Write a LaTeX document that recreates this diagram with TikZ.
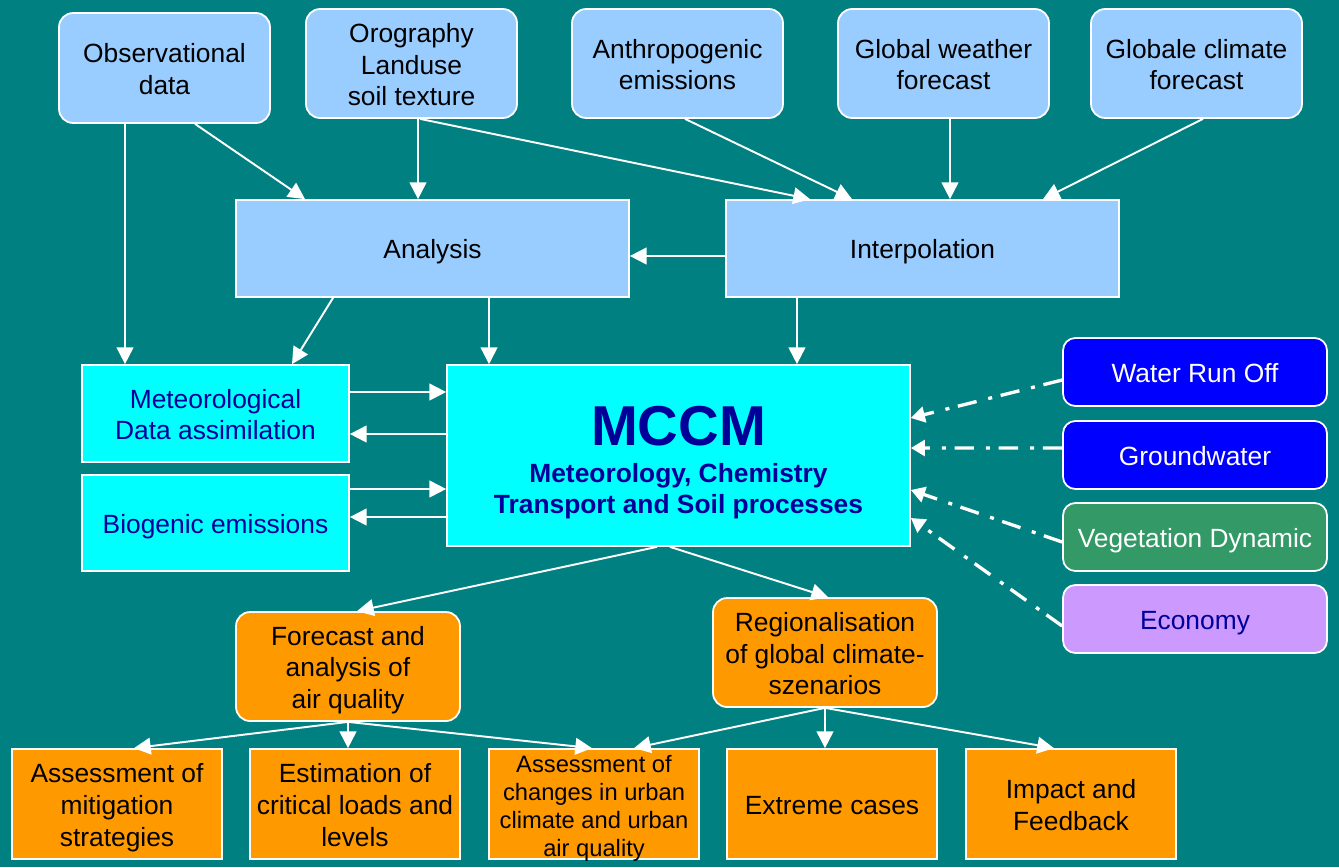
\documentclass[tikz,border=0pt]{standalone}
\usepackage{fontspec}
\setmainfont{Liberation Sans}
\usetikzlibrary{arrows.meta}
\definecolor{bgteal}{HTML}{008080}
\definecolor{lblue}{HTML}{99CCFF}
\definecolor{cyanbox}{HTML}{00FFFF}
\definecolor{bluebox}{HTML}{0000FF}
\definecolor{greenbox}{HTML}{339966}
\definecolor{lavbox}{HTML}{CC99FF}
\definecolor{orangebox}{HTML}{FF9900}
\definecolor{dblue}{HTML}{000099}
\newcommand\firstln{\rule{0pt}{15pt}}
\tikzset{
  basebox/.style={draw=white, line width=1pt, align=center, inner sep=0pt,
    font=\fontsize{15}{18}\selectfont,
    execute at begin node={\rule{0pt}{15pt}},
    execute at end node={\rule[-3pt]{0pt}{3pt}}},
  topbox/.style={basebox, fill=lblue, text=black, rounded corners=8pt,
    minimum width=4.22cm, minimum height=2.2cm},
  midbox/.style={basebox, fill=lblue, text=black,
    minimum width=7.86cm, minimum height=1.94cm},
  cybox/.style={basebox, fill=cyanbox, text=dblue,
    minimum width=5.34cm, minimum height=1.94cm},
  sidebox/.style={basebox, rounded corners=7pt,
    minimum width=5.28cm, minimum height=1.36cm},
  obox/.style={basebox, fill=orangebox, text=black, rounded corners=8pt,
    minimum width=4.48cm, minimum height=2.18cm},
  botbox/.style={basebox, fill=orangebox, text=black,
    minimum width=4.2cm, minimum height=2.2cm},
  arr/.style={draw=white, line width=1.1pt, -{Triangle[length=9.5pt,width=9.5pt]}},
  ddarr/.style={draw=white, line width=1.9pt,
    dash pattern=on 11pt off 5pt on 2.3pt off 6.8pt,
    -{Triangle[length=8pt,width=9pt]}}
}
\begin{document}
\begin{tikzpicture}[x=0.02cm,y=-0.02cm]
\fill[bgteal] (0,0) rectangle (1339,867);
\useasboundingbox (0,0) rectangle (1339,867);

% top row
\node[topbox] (obs) at (164.5,68) {\firstln Observational\\data};
\node[topbox, minimum height=2.18cm] (oro) at (411.5,63.5) {\firstln Orography\\Landuse\\soil texture};
\node[topbox, minimum height=2.18cm] (anth) at (677.5,63.5) {\firstln Anthropogenic\\emissions};
\node[topbox, minimum height=2.18cm] (gwf) at (943.5,63.5) {\firstln Global weather\\forecast};
\node[topbox, minimum height=2.18cm] (gcf) at (1196.5,63.5) {\firstln Globale climate\\forecast};

% second row
\node[midbox] (ana) at (432.5,248.5) {Analysis};
\node[midbox] (int) at (922.5,248.5) {Interpolation};

% middle
\node[cybox] (met) at (215.5,413.5) {\firstln Meteorological\\Data assimilation};
\node[cybox, minimum height=1.92cm] (bio) at (215.5,523) {Biogenic emissions};
\node[basebox, fill=cyanbox, text=dblue, minimum width=9.26cm, minimum height=3.62cm,
      font=\fontsize{15}{17.6}\selectfont] (mccm) at (678.5,455.5)
  {{\fontsize{32}{36}\selectfont\bfseries\rule{0pt}{30.3pt}MCCM}\\[3.9pt]
   {\bfseries Meteorology, Chemistry}\\
   {\bfseries Transport and Soil processes}};

% side boxes
\node[sidebox, fill=bluebox, text=white] (wro) at (1195,372) {Water Run Off};
\node[sidebox, fill=bluebox, text=white] (gw) at (1195,455) {Groundwater};
\node[sidebox, fill=greenbox, text=white] (veg) at (1195,537) {Vegetation Dynamic};
\node[sidebox, fill=lavbox, text=dblue] (eco) at (1195,619) {Economy};

% orange
\node[obox] (fc) at (348,666.5) {\firstln Forecast and\\analysis of\\air quality};
\node[obox] (reg) at (825,652.5) {\firstln Regionalisation\\of global climate-\\szenarios};

% bottom row
\node[botbox] (mit) at (117,804) {\firstln Assessment of\\mitigation\\strategies};
\node[botbox] (est) at (355,804) {\firstln Estimation of\\critical loads and\\levels};
\node[botbox, font=\fontsize{13.5}{16}\selectfont, text height=60pt, text depth=0pt] (chg) at (594,804)
  {Assessment of\\changes in urban\\climate and urban\\air quality};
\node[botbox] (ext) at (832,804) {Extreme cases};
\node[botbox] (imp) at (1071,804) {\firstln Impact and\\Feedback};

% top arrows
\draw[arr] ([xshift=-0.79cm]obs.south) -- ([xshift=-1.81cm]met.north);
\draw[arr] ([xshift=0.61cm]obs.south) -- ([xshift=-2.55cm]ana.north);
\draw[arr] ([xshift=0.13cm]oro.south) -- ([xshift=-0.29cm]ana.north);
\draw[arr] ([xshift=0.17cm]oro.south) -- ([xshift=-2.25cm]int.north);
\draw[arr] ([xshift=0.15cm]anth.south) -- ([xshift=-1.41cm]int.north);
\draw[arr] ([xshift=0.13cm]gwf.south) -- ([xshift=0.55cm]int.north);
\draw[arr] ([xshift=0.13cm]gcf.south) -- ([xshift=2.41cm]int.north);
\draw[arr] ([yshift=-0.15cm]int.west) -- ([yshift=-0.15cm]ana.east);

% to middle
\draw[arr] ([xshift=-1.99cm]ana.south) -- ([xshift=1.53cm]met.north);
\draw[arr] ([xshift=1.13cm]ana.south) -- ([xshift=-3.79cm]mccm.north);
\draw[arr] ([xshift=-2.51cm]int.south) -- ([xshift=2.37cm]mccm.north);

% left exchange
\draw[arr] ([yshift=0.43cm]met.east) -- ([yshift=1.27cm]mccm.west);
\draw[arr] ([yshift=0.43cm]mccm.west) -- ([yshift=-0.41cm]met.east);
\draw[arr] ([yshift=0.68cm]bio.east) -- ([yshift=-0.67cm]mccm.west);
\draw[arr] ([yshift=-1.23cm]mccm.west) -- ([yshift=0.12cm]bio.east);

% dash-dot from side boxes
\draw[ddarr] ([yshift=-0.16cm]wro.west) -- ([yshift=0.75cm]mccm.east);
\draw[ddarr] ([yshift=0.14cm]gw.west) -- ([yshift=0.15cm]mccm.east);
\draw[ddarr] ([yshift=-0.1cm]veg.west) -- ([yshift=-0.69cm]mccm.east);
\draw[ddarr] ([yshift=-0.14cm]eco.west) -- ([yshift=-1.25cm]mccm.east);

% down
\draw[arr] ([xshift=-0.43cm]mccm.south) -- ([xshift=0.18cm]fc.north);
\draw[arr] ([xshift=-0.17cm]mccm.south) -- ([xshift=0.06cm]reg.north);

\draw[arr] (fc.south) -- ([xshift=0.34cm]mit.north);
\draw[arr] (fc.south) -- ([xshift=-0.14cm]est.north);
\draw[arr] (fc.south) -- ([xshift=-0.04cm]chg.north);
\draw[arr] (reg.south) -- ([xshift=0.8cm]chg.north);
\draw[arr] (reg.south) -- ([xshift=-0.14cm]ext.north);
\draw[arr] (reg.south) -- ([xshift=-0.34cm]imp.north);
\end{tikzpicture}
\end{document}
